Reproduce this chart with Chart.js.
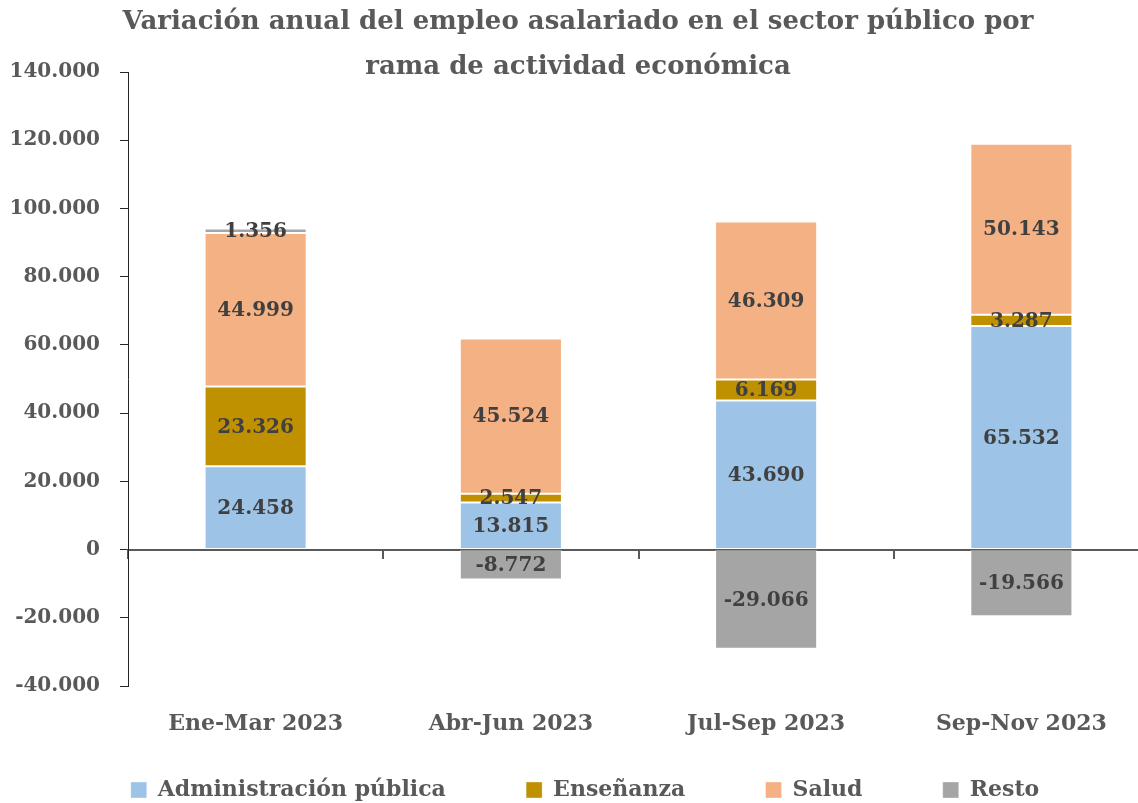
<!DOCTYPE html>
<html lang="es">
<head>
<meta charset="utf-8">
<title>Variación anual del empleo asalariado en el sector público</title>
<script src="https://cdn.jsdelivr.net/npm/chart.js@4.4.1/dist/chart.umd.min.js"></script>
<style>
    html, body { margin: 0; padding: 0; background: #fff; overflow: hidden; }
    #wrap { position: relative; width: 1149px; height: 803px; }
</style>
</head>
<body>
<div id="wrap"><canvas id="chart"></canvas></div>
<script>
const CATEGORIES = ['Ene-Mar 2023', 'Abr-Jun 2023', 'Jul-Sep 2023', 'Sep-Nov 2023'];
const ADMIN_PUBLICA = [24458, 13815, 43690, 65532];
const ENSENANZA = [23326, 2547, 6169, 3287];
const SALUD = [44999, 45524, 46309, 50143];
const RESTO = [1356, -8772, -29066, -19566];
const SERIES_NAMES = ['Administración pública', 'Enseñanza', 'Salud', 'Resto'];
const Y_MIN = -40000;
const Y_MAX = 140000;
const Y_STEP = 20000;
const TITLE_LINES = ['Variación anual del empleo asalariado en el sector público por', 'rama de actividad económica'];

const FONT = "'DejaVu Serif', serif";
const GREY_TEXT = '#595959';

function fmt(v) {
    const s = Math.abs(v).toString().replace(/\B(?=(\d{3})+(?!\d))/g, '.');
    return (v < 0 ? '-' : '') + s;
}

// titulo dibujado a mano para que se solape con el area del grafico
const titlePlugin = {
    id: 'titlePlugin',
    afterLayout(chart) {
        // la leyenda del original esta algo desplazada a la derecha
        if (chart.legend) chart.legend.left += 21;
    },
    afterDraw(chart) {
        const ctx = chart.ctx;
        ctx.save();
        ctx.font = 'bold 26px ' + FONT;
        ctx.fillStyle = GREY_TEXT;
        ctx.textAlign = 'center';
        ctx.textBaseline = 'middle';
        ctx.fillText(TITLE_LINES[0], 578, 22);
        ctx.fillText(TITLE_LINES[1], 578, 67);
        ctx.restore();
    }
};

// etiquetas de valor en el centro de cada segmento
const valueLabels = {
    id: 'valueLabels',
    afterDatasetsDraw(chart) {
        const ctx = chart.ctx;
        ctx.save();
        ctx.font = 'bold 20px ' + FONT;
        ctx.fillStyle = '#404040';
        ctx.textAlign = 'center';
        ctx.textBaseline = 'middle';
        chart.data.datasets.forEach((ds, i) => {
            const meta = chart.getDatasetMeta(i);
            meta.data.forEach((bar, j) => {
                const v = ds.data[j];
                if (v === null || v === undefined) return;
                const y = (bar.y + bar.base) / 2;
                ctx.fillText(fmt(v), bar.x, y + 1);
            });
        });
        ctx.restore();
    }
};

const COLORS = ['#9DC3E6', '#BF9000', '#F4B183', '#A5A5A5'];
const VALUES = [ADMIN_PUBLICA, ENSENANZA, SALUD, RESTO];

new Chart(document.getElementById('chart'), {
    type: 'bar',
    data: {
        labels: CATEGORIES,
        datasets: VALUES.map((vals, i) => ({
            label: SERIES_NAMES[i],
            data: vals,
            backgroundColor: COLORS[i],
            borderColor: 'rgba(255,255,255,0.35)',
            borderWidth: 1,
            borderSkipped: false,
            barPercentage: 0.4,
            categoryPercentage: 1.0,
        }))
    },
    options: {
        responsive: true,
        maintainAspectRatio: false,
        animation: false,
        layout: {
            padding: { top: 72, left: 0, right: 0, bottom: -8 }
        },
        scales: {
            x: {
                stacked: true,
                position: 'bottom',
                grid: { display: false, drawTicks: false },
                border: { display: false },
                ticks: {
                    color: GREY_TEXT,
                    padding: 25,
                    maxRotation: 0,
                    font: { family: FONT, size: 22, weight: 'bold' }
                },
                afterFit: (s) => { s.height = 51; }
            },
            x2: {
                type: 'category',
                position: { y: 0 },
                offset: true,
                grid: {
                    offset: true,
                    drawOnChartArea: false,
                    tickLength: 8,
                    color: GREY_TEXT,
                    lineWidth: 2
                },
                border: { color: GREY_TEXT, width: 2 },
                ticks: { display: false }
            },
            y: {
                stacked: true,
                min: Y_MIN,
                max: Y_MAX,
                grid: {
                    drawOnChartArea: false,
                    tickLength: 8,
                    color: '#262626',
                    lineWidth: 1
                },
                border: { color: '#262626', width: 1 },
                ticks: {
                    stepSize: Y_STEP,
                    padding: 20,
                    color: GREY_TEXT,
                    font: { family: FONT, size: 20, weight: 'bold' },
                    callback: (v) => fmt(v)
                },
                afterFit: (s) => { s.width = 128; }
            }
        },
        plugins: {
            legend: {
                position: 'bottom',
                labels: {
                    boxWidth: 16,
                    boxHeight: 16,
                    padding: 42,
                    color: GREY_TEXT,
                    font: { family: FONT, size: 22, weight: 'bold' },
                    generateLabels: (chart) => {
                        const items = Chart.defaults.plugins.legend.labels.generateLabels(chart);
                        // separacion extra entre entradas como en el original
                        items.forEach((it, i) => {
                            if (i < items.length - 1) it.text = it.text + '     ';
                        });
                        return items;
                    }
                }
            },
            title: { display: false },
            tooltip: { enabled: false }
        }
    },
    plugins: [titlePlugin, valueLabels]
});
</script>
</body>
</html>
